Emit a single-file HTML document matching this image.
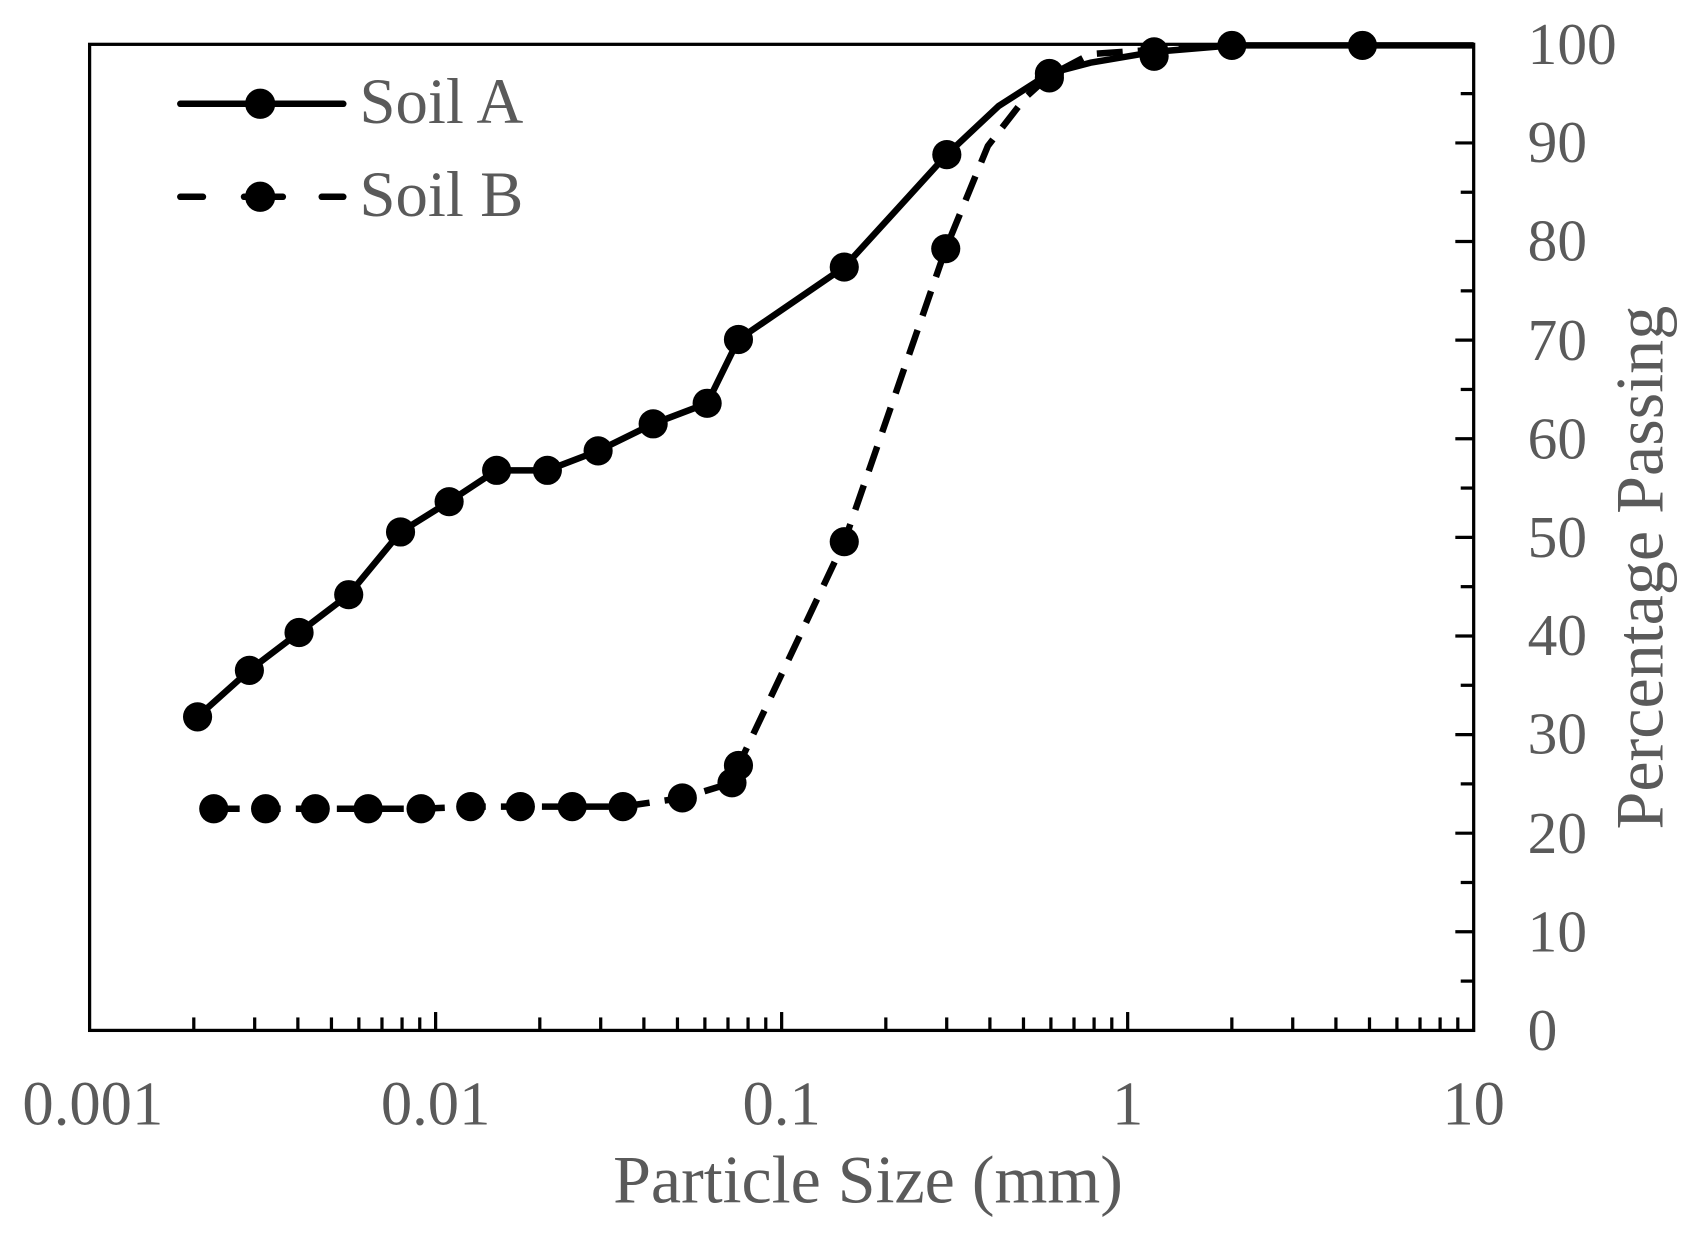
<!DOCTYPE html>
<html><head><meta charset="utf-8"><style>html,body{margin:0;padding:0;background:#fff}svg{display:block}</style></head>
<body>
<svg width="1695" height="1238" viewBox="0 0 1570 1145" preserveAspectRatio="none" xmlns="http://www.w3.org/2000/svg">
<rect width="1570" height="1145" fill="#fff"/>
<g stroke="#000" stroke-width="3" fill="none">
<rect x="83" y="41" width="1282" height="912"/>
</g>
<g stroke="#000" stroke-width="3">
<line x1="403.5" y1="953" x2="403.5" y2="936"/><line x1="724" y1="953" x2="724" y2="936"/><line x1="1044.5" y1="953" x2="1044.5" y2="936"/>
<line x1="179.5" y1="953" x2="179.5" y2="941"/><line x1="235.9" y1="953" x2="235.9" y2="941"/><line x1="275.9" y1="953" x2="275.9" y2="941"/><line x1="307" y1="953" x2="307" y2="941"/><line x1="332.4" y1="953" x2="332.4" y2="941"/><line x1="353.8" y1="953" x2="353.8" y2="941"/><line x1="372.4" y1="953" x2="372.4" y2="941"/><line x1="388.8" y1="953" x2="388.8" y2="941"/>
<line x1="500" y1="953" x2="500" y2="941"/><line x1="556.4" y1="953" x2="556.4" y2="941"/><line x1="596.4" y1="953" x2="596.4" y2="941"/><line x1="627.5" y1="953" x2="627.5" y2="941"/><line x1="652.9" y1="953" x2="652.9" y2="941"/><line x1="674.3" y1="953" x2="674.3" y2="941"/><line x1="692.9" y1="953" x2="692.9" y2="941"/><line x1="709.3" y1="953" x2="709.3" y2="941"/>
<line x1="820.5" y1="953" x2="820.5" y2="941"/><line x1="876.9" y1="953" x2="876.9" y2="941"/><line x1="916.9" y1="953" x2="916.9" y2="941"/><line x1="948" y1="953" x2="948" y2="941"/><line x1="973.4" y1="953" x2="973.4" y2="941"/><line x1="994.8" y1="953" x2="994.8" y2="941"/><line x1="1013.4" y1="953" x2="1013.4" y2="941"/><line x1="1029.8" y1="953" x2="1029.8" y2="941"/>
<line x1="1141" y1="953" x2="1141" y2="941"/><line x1="1197.4" y1="953" x2="1197.4" y2="941"/><line x1="1237.4" y1="953" x2="1237.4" y2="941"/><line x1="1268.5" y1="953" x2="1268.5" y2="941"/><line x1="1293.9" y1="953" x2="1293.9" y2="941"/><line x1="1315.3" y1="953" x2="1315.3" y2="941"/><line x1="1333.9" y1="953" x2="1333.9" y2="941"/><line x1="1350.3" y1="953" x2="1350.3" y2="941"/>
<line x1="1365" y1="132.2" x2="1348" y2="132.2"/><line x1="1365" y1="223.4" x2="1348" y2="223.4"/><line x1="1365" y1="314.6" x2="1348" y2="314.6"/><line x1="1365" y1="405.8" x2="1348" y2="405.8"/><line x1="1365" y1="497" x2="1348" y2="497"/><line x1="1365" y1="588.2" x2="1348" y2="588.2"/><line x1="1365" y1="679.4" x2="1348" y2="679.4"/><line x1="1365" y1="770.6" x2="1348" y2="770.6"/><line x1="1365" y1="861.8" x2="1348" y2="861.8"/>
<line x1="1365" y1="86.6" x2="1353" y2="86.6"/><line x1="1365" y1="177.8" x2="1353" y2="177.8"/><line x1="1365" y1="269" x2="1353" y2="269"/><line x1="1365" y1="360.2" x2="1353" y2="360.2"/><line x1="1365" y1="451.4" x2="1353" y2="451.4"/><line x1="1365" y1="542.6" x2="1353" y2="542.6"/><line x1="1365" y1="633.8" x2="1353" y2="633.8"/><line x1="1365" y1="725" x2="1353" y2="725"/><line x1="1365" y1="816.2" x2="1353" y2="816.2"/><line x1="1365" y1="907.4" x2="1353" y2="907.4"/>
</g>
<polyline fill="none" stroke="#000" stroke-width="6" stroke-linejoin="round" points="183,663 231,620 277,585 323,550 371,492 416,464 460,435 507,435 554,417 605,392 655,373 684,314 782,247 877,143 925,98 972,68 1010,58 1069,48 1141,42 1262,42 1365,42"/>
<polyline fill="none" stroke="#000" stroke-width="6" stroke-dasharray="24,14" points="198,748 246,748 292,748 341,748 390,748 436,746 482,746 530,746 577,746 632,738 678,724 684,708 782,501 876,230 915,135 950,90 972,70 1010,50 1069,46 1141,42"/>
<g fill="#000">
<circle cx="183" cy="663" r="13.5"/><circle cx="231" cy="620" r="13.5"/><circle cx="277" cy="585" r="13.5"/><circle cx="323" cy="550" r="13.5"/><circle cx="371" cy="492" r="13.5"/><circle cx="416" cy="464" r="13.5"/><circle cx="460" cy="435" r="13.5"/><circle cx="507" cy="435" r="13.5"/><circle cx="554" cy="417" r="13.5"/><circle cx="605" cy="392" r="13.5"/><circle cx="655" cy="373" r="13.5"/><circle cx="684" cy="314" r="13.5"/><circle cx="782" cy="247" r="13.5"/><circle cx="877" cy="143" r="13.5"/><circle cx="972" cy="68" r="13.5"/><circle cx="1069" cy="48" r="13.5"/><circle cx="1141" cy="42" r="13.5"/><circle cx="1262" cy="42" r="13.5"/>
<circle cx="198" cy="748" r="13.5"/><circle cx="246" cy="748" r="13.5"/><circle cx="292" cy="748" r="13.5"/><circle cx="341" cy="748" r="13.5"/><circle cx="390" cy="748" r="13.5"/><circle cx="436" cy="746" r="13.5"/><circle cx="482" cy="746" r="13.5"/><circle cx="530" cy="746" r="13.5"/><circle cx="577" cy="746" r="13.5"/><circle cx="632" cy="738" r="13.5"/><circle cx="678" cy="724" r="13.5"/><circle cx="684" cy="708" r="13.5"/><circle cx="782" cy="501" r="13.5"/><circle cx="876" cy="230" r="13.5"/><circle cx="972" cy="72" r="13.5"/><circle cx="1069" cy="52" r="13.5"/>
</g>
<line x1="167" y1="96" x2="318" y2="96" stroke="#000" stroke-width="6" stroke-linecap="round"/>
<circle cx="241" cy="96" r="14" fill="#000"/>
<line x1="167" y1="182" x2="188" y2="182" stroke="#000" stroke-width="6" stroke-linecap="round"/>
<line x1="226" y1="182" x2="262" y2="182" stroke="#000" stroke-width="6" stroke-linecap="round"/>
<line x1="298" y1="182" x2="318" y2="182" stroke="#000" stroke-width="6" stroke-linecap="round"/>
<circle cx="241" cy="182" r="14" fill="#000"/>
<g font-family="Liberation Serif, serif" fill="#5a5a5a">
<text x="333" y="114" font-size="60">Soil A</text>
<text x="333" y="200" font-size="60">Soil B</text>
<g font-size="55">
<text x="1415" y="59">100</text><text x="1415" y="150">90</text><text x="1415" y="241">80</text><text x="1415" y="333">70</text><text x="1415" y="424">60</text><text x="1415" y="515">50</text><text x="1415" y="606">40</text><text x="1415" y="697">30</text><text x="1415" y="789">20</text><text x="1415" y="880">10</text><text x="1415" y="971">0</text>
</g>
<g font-size="58" text-anchor="middle">
<text x="86" y="1040">0.001</text><text x="403.5" y="1040">0.01</text><text x="724" y="1040">0.1</text><text x="1044.5" y="1040">1</text><text x="1365" y="1040">10</text>
</g>
<text x="804" y="1112" font-size="63" text-anchor="middle">Particle Size (mm)</text>
<text transform="translate(1540,525) rotate(-90)" font-size="63" text-anchor="middle">Percentage Passing</text>
</g>
</svg>
</body></html>
